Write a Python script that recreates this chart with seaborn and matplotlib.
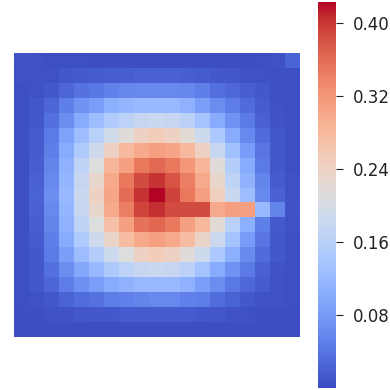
import matplotlib
matplotlib.use("Agg")
import matplotlib.pyplot as plt
import numpy as np
import seaborn as sns

# values, one list per row
row_00 = [.008, .006, .004, .004, .004, .003, .003, .003, .003, .003, .003, .003, .003, .003, .003, .003, .004, .006, .024]
row_01 = [.005, .005, .006, .010, .014, .016, .018, .018, .020, .020, .020, .018, .016, .012, .010, .008, .006, .004, .004]
row_02 = [.004, .006, .012, .025, .038, .042, .052, .058, .060, .060, .060, .058, .050, .034, .028, .018, .012, .004, .004]
row_03 = [.004, .010, .025, .050, .072, .084, .105, .115, .120, .120, .120, .110, .085, .065, .048, .030, .016, .006, .004]
row_04 = [.004, .012, .035, .065, .100, .125, .150, .165, .178, .182, .178, .162, .135, .100, .072, .045, .020, .008, .004]
row_05 = [.004, .015, .045, .088, .125, .160, .192, .215, .240, .250, .240, .220, .188, .145, .100, .060, .030, .010, .004]
row_06 = [.004, .016, .050, .100, .148, .190, .240, .280, .300, .310, .305, .280, .240, .180, .130, .082, .040, .012, .004]
row_07 = [.004, .018, .055, .110, .168, .210, .285, .310, .350, .362, .350, .320, .285, .215, .155, .100, .045, .012, .004]
row_08 = [.004, .020, .060, .115, .178, .230, .300, .350, .385, .402, .380, .345, .300, .230, .168, .110, .055, .015, .005]
row_09 = [.004, .022, .065, .120, .183, .240, .305, .360, .402, .423, .392, .350, .312, .245, .183, .125, .060, .020, .006]
row_10 = [.004, .020, .060, .115, .178, .230, .300, .345, .390, .405, .385, .385, .385, .300, .312, .312, .120, .055, .007]
row_11 = [.004, .018, .055, .110, .168, .210, .270, .310, .355, .365, .350, .310, .280, .220, .160, .105, .050, .014, .005]
row_12 = [.004, .016, .050, .100, .148, .190, .235, .275, .300, .310, .300, .275, .235, .185, .135, .082, .040, .012, .004]
row_13 = [.004, .012, .045, .085, .125, .155, .188, .210, .240, .250, .240, .215, .188, .145, .105, .062, .030, .012, .004]
row_14 = [.004, .012, .035, .065, .095, .120, .146, .165, .178, .182, .178, .162, .135, .100, .072, .045, .020, .008, .004]
row_15 = [.004, .010, .025, .048, .068, .084, .100, .110, .120, .120, .120, .110, .085, .065, .044, .028, .016, .006, .004]
row_16 = [.004, .005, .010, .022, .032, .038, .048, .052, .056, .060, .060, .052, .048, .032, .022, .012, .008, .005, .004]
row_17 = [.003, .003, .005, .007, .010, .012, .013, .015, .016, .016, .016, .016, .013, .010, .008, .005, .003, .003, .003]
row_18 = [.002, .002, .002, .002, .002, .002, .002, .002, .002, .002, .002, .002, .002, .002, .002, .002, .002, .002, .002]

grid_rows = [row_00, row_01, row_02, row_03, row_04, row_05, row_06, row_07, row_08, row_09,
             row_10, row_11, row_12, row_13, row_14, row_15, row_16, row_17, row_18]
cbar_ticks = [0.08, 0.16, 0.24, 0.32, 0.40]


def main():
    fig = plt.figure(figsize=(3.9, 3.9), dpi=100)
    ax = fig.add_axes([14 / 390, 53 / 390, 286 / 390, 284 / 390])
    cax = fig.add_axes([318 / 390, 2 / 390, 18 / 390, 386 / 390])

    sns.heatmap(
        np.array(grid_rows),
        ax=ax,
        cbar_ax=cax,
        cmap="coolwarm",
        vmin=0.0,
        vmax=0.423,
        xticklabels=False,
        yticklabels=False,
        cbar_kws={"ticks": cbar_ticks, "format": "%.2f"},
    )

    cax.tick_params(labelsize=12, length=5, width=0.8, color="#222222", labelcolor="#222222", pad=7)

    fig.savefig("out.png", dpi=100)
    plt.close(fig)


if __name__ == "__main__":
    main()
